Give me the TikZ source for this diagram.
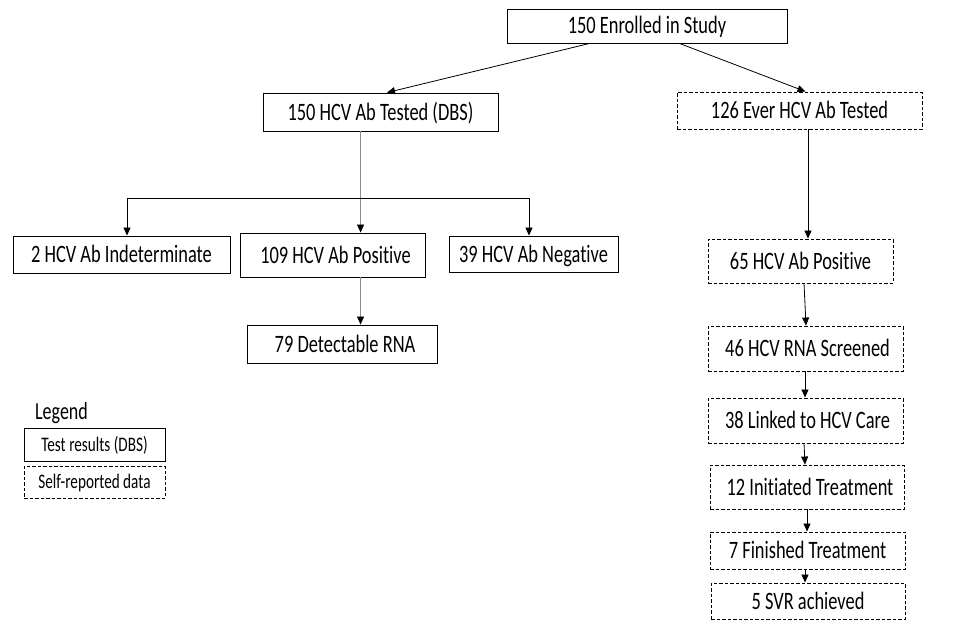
\documentclass[tikz,border=0pt]{standalone}
\usepackage{fontspec}
\setmainfont{Carlito}[Ligatures={NoCommon}]
\usetikzlibrary{arrows.meta,calc}
\newcommand{\tx}[1]{\scalebox{1}[1.36]{#1}}
\begin{document}
\begin{tikzpicture}[x=1pt,y=-1pt,
  box/.style={draw,line width=0.9pt,rectangle,inner sep=0pt,text height=16pt,text depth=0pt,font=\fontsize{18.4}{21}\selectfont},
  sbox/.style={box,dashed,dash pattern=on 3.5pt off 2pt},
  lbox/.style={draw,line width=0.9pt,rectangle,inner sep=0pt,text height=13.5pt,text depth=0pt,font=\fontsize{15.2}{18}\selectfont},
  arr/.style={line width=0.8pt,-{Triangle[length=8pt,width=7pt]}},
  garr/.style={line width=0.8pt,draw=black!45,-{Triangle[length=8pt,width=7pt,color=black]}}]
\useasboundingbox (0,0) rectangle (962,621);
\node[box,minimum width=280pt,minimum height=34pt] (enr) at (647,26) {\tx{150 Enrolled in Study}};
\node[box,minimum width=235pt,minimum height=38pt] (tested) at (380.5,112) {\tx{150 HCV Ab Tested (DBS)}};
\node[sbox,minimum width=245pt,minimum height=37pt] (ever) at (799.5,110.5) {\tx{126 Ever HCV Ab Tested}};
\node[box,minimum width=217pt,minimum height=37pt] (indet) at (121.5,254.5) {\tx{2 HCV Ab Indeterminate}};
\node[box,minimum width=185pt,minimum height=44pt] (pos) at (332.5,255) {\tx{\hspace{6pt}109 HCV Ab Positive}};
\node[box,minimum width=169pt,minimum height=36pt] (neg) at (533.5,254) {\tx{39 HCV Ab Negative}};
\node[box,minimum width=190pt,minimum height=38pt] (rna) at (342,344) {\tx{\hspace{6pt}79 Detectable RNA}};
\node[sbox,minimum width=185pt,minimum height=44pt] (posb) at (800.5,261) {\tx{65 HCV Ab Positive}};
\node[sbox,minimum width=195pt,minimum height=45pt] (scr) at (805.5,348.5) {\tx{\hspace{4pt}46 HCV RNA Screened}};
\node[sbox,minimum width=195pt,minimum height=45pt] (link) at (805.5,420.5) {\tx{\hspace{4pt}38 Linked to HCV Care}};
\node[sbox,minimum width=194pt,minimum height=44pt] (init) at (807,487) {\tx{\hspace{6pt}12 Initiated Treatment}};
\node[sbox,minimum width=195pt,minimum height=37pt] (fin) at (807.5,550.5) {\tx{7 Finished Treatment}};
\node[sbox,minimum width=194pt,minimum height=36pt] (svr) at (808,601) {\tx{5 SVR achieved}};
% legend
\node[font=\fontsize{18}{21}\selectfont,inner sep=0pt,text height=14pt,text depth=0pt] (leg) at (61.5,412) {\tx{Legend}};
\node[lbox,minimum width=141pt,minimum height=33pt] (ltest) at (94.5,444.5) {\tx{Test results (DBS)}};
\node[lbox,dashed,dash pattern=on 3.5pt off 2pt,minimum width=141pt,minimum height=32pt] (lself) at (94.5,482) {\tx{Self-reported data}};
% connectors
\draw[arr] ($(enr.south west)+(83,0)$) -- ($(tested.north)+(6.5,0)$);
\draw[arr] ($(enr.south west)+(173,0)$) -- ($(ever.north)+(6,0)$);
\coordinate (j) at ($(tested.south west)+(98,67)$);
\draw[line width=0.8pt,draw=black!45] ($(tested.south west)+(98,0)$) -- (j);
\draw[garr] (j) -- ($(pos.north west)+(121,0)$);
\draw[arr] (j) -| ($(indet.north)+(5.5,0)$);
\draw[arr] (j) -| ($(neg.north)+(-4.5,0)$);
\draw[garr] ($(pos.south west)+(121,0)$) -- ($(rna.north west)+(114,0)$);
\draw[arr] ($(ever.south)+(8.5,0)$) -- ($(posb.north)+(7.5,0)$);
\draw[arr] ($(posb.south)+(3.5,0)$) -- ($(scr.north)+(0.5,0)$);
\draw[arr] ($(scr.south)+(-0.5,0)$) -- ($(link.north)+(-0.5,0)$);
\draw[arr] ($(link.south)+(-1.5,0)$) -- ($(init.north)+(-2,0)$);
\draw[arr] ($(init.south)+(0,0)$) -- ($(fin.north)+(-0.5,0)$);
\draw[arr] ($(fin.south)+(-2.5,0)$) -- ($(svr.north)+(-3,0)$);
\end{tikzpicture}
\end{document}
